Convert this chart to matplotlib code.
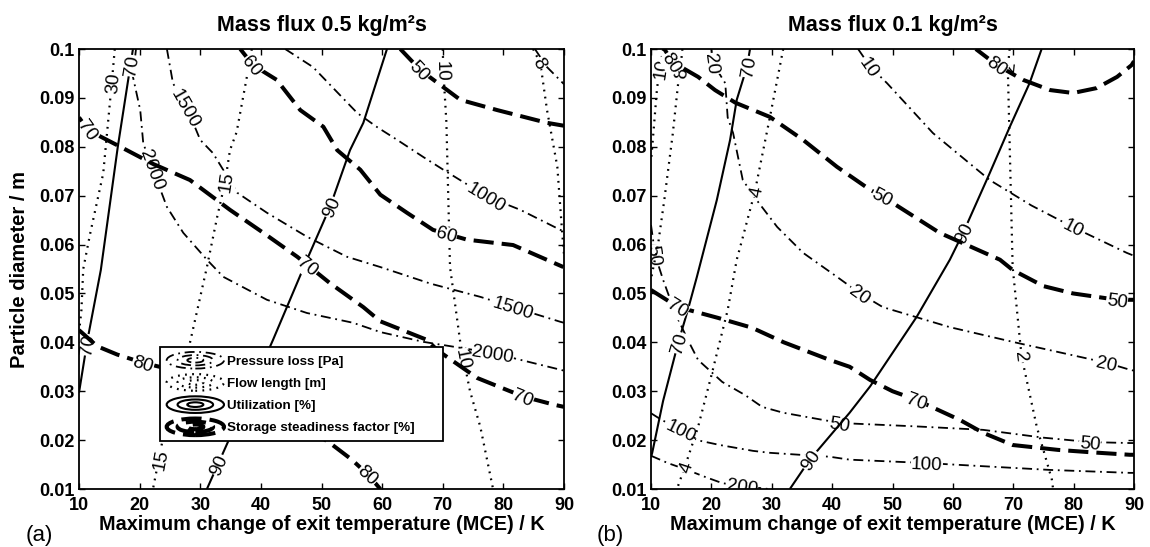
import numpy as np
import matplotlib
matplotlib.use('Agg')
import matplotlib.pyplot as plt
from matplotlib.legend_handler import HandlerBase
from matplotlib.lines import Line2D
from matplotlib.patches import Ellipse

plt.rcParams['font.family'] = ['Liberation Sans', 'DejaVu Sans']

# ---------------- panel (a): mass flux 0.5 kg/m2s ----------------
# pressure loss [Pa]
a_p500_x = [85.2, 87.2, 90.0]
a_p500_y = [0.100, 0.0963, 0.0928]
a_p1000_x = [44.0, 48.6, 55.9, 59.2, 62.5, 66.8, 70.1, 77.3, 82.8, 89.4, 90.0]
a_p1000_y = [0.100, 0.0963, 0.0869, 0.0840, 0.0814, 0.0779, 0.0753, 0.0698, 0.0671, 0.0630, 0.0627]
a_p1500_x = [24.5, 25.5, 27.8, 30.0, 32.1, 36.1, 41.0, 47.6, 54.2, 59.7, 68.0, 76.2, 81.6, 89.4, 90.0]
a_p1500_y = [0.100, 0.093, 0.088, 0.0814, 0.0787, 0.0706, 0.0665, 0.0616, 0.0575, 0.0554, 0.0520, 0.0493, 0.0472, 0.0442, 0.0440]
a_p2000_x = [19.4, 18.9, 20.1, 20.6, 22.2, 24.5, 27.2, 31.1, 33.8, 41.0, 47.6, 55.2, 59.7, 66.8, 78.3, 89.4, 90.0]
a_p2000_y = [0.100, 0.0943, 0.0875, 0.0807, 0.0753, 0.0677, 0.0624, 0.0569, 0.0534, 0.0487, 0.0460, 0.0440, 0.0421, 0.0401, 0.0378, 0.0344, 0.0342]
# flow length [m]
a_f30_x = [15.9, 15.4, 14.0, 11.8, 10.7, 10.4, 10.0]
a_f30_y = [0.100, 0.093, 0.0746, 0.062, 0.055, 0.0466, 0.042]
a_f15_x = [38.5, 37.9, 36.0, 34.9, 34.1, 32.8, 31.1, 28.3, 26.2, 23.9, 22.2]
a_f15_y = [0.100, 0.0957, 0.083, 0.0793, 0.0728, 0.0657, 0.0554, 0.0399, 0.0297, 0.0207, 0.010]
a_f10_x = [70.0, 70.1, 70.6, 71.2, 72.9, 74.5, 76.2, 78.3]
a_f10_y = [0.100, 0.0955, 0.0850, 0.0554, 0.0399, 0.0300, 0.0227, 0.010]
a_f8_x = [84.9, 86.1, 87.2, 88.9, 89.7, 90.0]
a_f8_y = [0.100, 0.0971, 0.0875, 0.0759, 0.0624, 0.0580]
# utilization [%]
a_u70_x = [18.9, 16.4, 13.6, 11.4, 10.0]
a_u70_y = [0.100, 0.080, 0.0548, 0.0405, 0.0297]
a_u90_x = [31.1, 36.5, 42.0, 47.6, 51.4, 54.7, 56.9, 60.8]
a_u90_y = [0.010, 0.025, 0.0405, 0.0569, 0.0677, 0.0793, 0.0849, 0.100]
# storage steadiness factor [%]
a_s50_x = [63.0, 66.3, 72.9, 79.0, 87.2, 90.0]
a_s50_y = [0.100, 0.0957, 0.0896, 0.0875, 0.0849, 0.0843]
a_s60_x = [36.6, 38.7, 42.6, 46.5, 50.3, 52.6, 56.4, 59.7, 64.1, 68.4, 74.0, 81.6, 89.9]
a_s60_y = [0.100, 0.0967, 0.0937, 0.0875, 0.0841, 0.0793, 0.0753, 0.0702, 0.0665, 0.0630, 0.0610, 0.0599, 0.0554]
a_s70_x = [10.0, 11.5, 17.9, 22.2, 28.3, 34.9, 40.4, 46.0, 51.4, 56.9, 59.7, 67.4, 69.1, 75.7, 83.3, 88.5, 90.0]
a_s70_y = [0.0860, 0.0834, 0.0793, 0.0765, 0.0732, 0.0671, 0.0624, 0.0575, 0.0521, 0.0472, 0.0443, 0.0405, 0.0384, 0.0327, 0.0289, 0.0272, 0.0268]
a_s80_x = [10.0, 13.0, 16.3, 20.6, 30.0, 40.0, 47.5, 51.4, 55.0, 57.7, 59.7]
a_s80_y = [0.0425, 0.0392, 0.0375, 0.0358, 0.0330, 0.0280, 0.0225, 0.0194, 0.0160, 0.0129, 0.0100]

# ---------------- panel (b): mass flux 0.1 kg/m2s ----------------
b_p10_x = [44.3, 46.3, 49.1, 56.7, 66.1, 73.0, 80.0, 88.8, 90.0]
b_p10_y = [0.100, 0.0964, 0.0930, 0.0828, 0.0732, 0.0680, 0.0635, 0.0583, 0.0577]
b_p20_x = [20.0, 20.3, 22.3, 22.7, 23.6, 25.2, 27.5, 30.9, 35.2, 40.8, 44.6, 48.4, 59.5, 70.6, 85.5, 89.3, 90.0]
b_p20_y = [0.100, 0.097, 0.093, 0.086, 0.0828, 0.0732, 0.0691, 0.0636, 0.0583, 0.0534, 0.0500, 0.0472, 0.0431, 0.0399, 0.0358, 0.0344, 0.0342]
b_p50_x = [10.0, 10.7, 12.0, 14.0, 16.1, 17.8, 21.8, 25.6, 28.4, 31.9, 41.3, 54.0, 65.0, 75.0, 82.7, 89.3, 90.0]
b_p50_y = [0.0640, 0.0578, 0.0528, 0.0460, 0.0405, 0.0364, 0.0319, 0.0292, 0.0268, 0.0256, 0.0235, 0.0228, 0.0221, 0.0205, 0.0196, 0.0194, 0.0194]
b_p100_x = [10.0, 11.8, 15.1, 17.6, 21.4, 26.9, 29.7, 39.6, 42.9, 55.7, 76.1, 89.3, 90.0]
b_p100_y = [0.0255, 0.0241, 0.0221, 0.0200, 0.0190, 0.0178, 0.0174, 0.0166, 0.0160, 0.0153, 0.0139, 0.0133, 0.0133]
b_p200_x = [10.0, 12.8, 16.0, 18.9, 21.8, 25.1, 29.5]
b_p200_y = [0.0168, 0.0153, 0.0139, 0.0125, 0.0112, 0.0106, 0.0100]
b_f10_x = [12.0, 11.5, 11.0, 10.3, 10.0]
b_f10_y = [0.100, 0.0960, 0.0920, 0.0814, 0.0770]
b_f8_x = [15.2, 14.8, 14.5, 13.6, 12.2, 11.2, 10.5, 10.0]
b_f8_y = [0.100, 0.0950, 0.0930, 0.0826, 0.0691, 0.0603, 0.0560, 0.0530]
b_f4_x = [31.9, 29.7, 27.2, 25.1, 24.2, 22.7, 20.1, 17.8, 15.6, 14.3]
b_f4_y = [0.100, 0.0861, 0.0708, 0.0610, 0.0569, 0.0466, 0.0337, 0.0227, 0.0145, 0.0100]
b_f2_x = [69.4, 69.1, 69.9, 70.5, 71.1, 71.4, 73.9, 76.4, 76.6]
b_f2_y = [0.100, 0.0960, 0.0554, 0.0480, 0.0405, 0.0370, 0.0227, 0.0119, 0.0100]
b_u70_x = [26.4, 25.9, 24.2, 23.1, 20.9, 17.6, 16.1, 14.5, 12.0, 10.2, 10.0]
b_u70_y = [0.100, 0.0964, 0.0896, 0.0814, 0.0691, 0.0534, 0.0466, 0.0399, 0.0280, 0.0174, 0.0165]
b_u90_x = [33.0, 36.3, 42.9, 46.3, 54.0, 59.5, 61.7, 66.1, 69.4, 72.7, 74.7]
b_u90_y = [0.010, 0.016, 0.0256, 0.031, 0.0452, 0.0569, 0.0624, 0.0746, 0.0840, 0.0930, 0.100]
b_s80_x = [63.8, 67.3, 71.6, 76.1, 79.9, 83.8, 87.2, 89.6, 90.0]
b_s80_y = [0.100, 0.0967, 0.0937, 0.0916, 0.0910, 0.0920, 0.0943, 0.0967, 0.0975]
b_s50_x = [12.2, 13.6, 17.8, 20.6, 24.0, 29.7, 35.2, 40.8, 46.3, 48.4, 57.8, 67.8, 69.9, 75.0, 79.9, 87.2, 90.0]
b_s50_y = [0.100, 0.0973, 0.0943, 0.0916, 0.0890, 0.0861, 0.0814, 0.0759, 0.0712, 0.0698, 0.0624, 0.0569, 0.0548, 0.0515, 0.0500, 0.0487, 0.0487]
b_s70_x = [10.0, 14.5, 21.1, 26.7, 32.0, 39.6, 42.9, 46.3, 50.0, 54.0, 61.2, 65.0, 69.9, 77.4, 83.0, 89.3, 90.0]
b_s70_y = [0.0507, 0.0472, 0.0450, 0.0430, 0.0400, 0.0364, 0.0350, 0.0323, 0.0300, 0.0282, 0.0241, 0.0215, 0.0190, 0.0180, 0.0175, 0.0170, 0.0170]

x_ticks = [10, 20, 30, 40, 50, 60, 70, 80, 90]
y_ticks = [0.01, 0.02, 0.03, 0.04, 0.05, 0.06, 0.07, 0.08, 0.09, 0.1]
y_ticklabels = ['0.01', '0.02', '0.03', '0.04', '0.05', '0.06', '0.07', '0.08', '0.09', '0.1']
titles = ['Mass flux 0.5 kg/m²s', 'Mass flux 0.1 kg/m²s']
legend_names = ['Pressure loss [Pa]', 'Flow length [m]', 'Utilization [%]',
                'Storage steadiness factor [%]']

STYLE = {
    'p': dict(lw=1.3, ls=(0, (5.5, 2.6, 1.0, 2.6)), z=2),
    'f': dict(lw=1.6, ls=(0, (0.8, 2.4)), z=3),
    'u': dict(lw=1.5, ls='-', z=4),
    's': dict(lw=2.9, ls=(0, (5, 2)), z=5),
}

curves_a = {
    'p500': (a_p500_x, a_p500_y), 'p1000': (a_p1000_x, a_p1000_y),
    'p1500': (a_p1500_x, a_p1500_y), 'p2000': (a_p2000_x, a_p2000_y),
    'f30': (a_f30_x, a_f30_y), 'f15': (a_f15_x, a_f15_y),
    'f10': (a_f10_x, a_f10_y), 'f8': (a_f8_x, a_f8_y),
    'u70': (a_u70_x, a_u70_y), 'u90': (a_u90_x, a_u90_y),
    's50': (a_s50_x, a_s50_y), 's60': (a_s60_x, a_s60_y),
    's70': (a_s70_x, a_s70_y), 's80': (a_s80_x, a_s80_y),
}
labels_a = [
    ('u70', '70', 19.0, 0.0965), ('u70', '70', 11.3, 0.0395),
    ('u90', '90', 51.4, 0.0677), ('u90', '90', 32.0, 0.0155),
    ('f30', '30', 15.4, 0.093), ('f15', '15', 34.1, 0.0728), ('f15', '15', 23.4, 0.016),
    ('f10', '10', 70.1, 0.0955), ('f10', '10', 73.0, 0.0364), ('f8', '8', 86.1, 0.0971),
    ('s50', '50', 66.3, 0.0957), ('s60', '60', 38.7, 0.0967), ('s60', '60', 70.7, 0.0626),
    ('s70', '70', 11.5, 0.0834), ('s70', '70', 47.6, 0.0552), ('s70', '70', 83.3, 0.0289),
    ('s80', '80', 20.6, 0.0358), ('s80', '80', 57.7, 0.0129),
    ('p1000', '1000', 77.3, 0.0698), ('p1500', '1500', 27.8, 0.088),
    ('p1500', '1500', 81.6, 0.0472), ('p2000', '2000', 22.2, 0.0753),
    ('p2000', '2000', 78.3, 0.0378),
]
curves_b = {
    'p10': (b_p10_x, b_p10_y), 'p20': (b_p20_x, b_p20_y), 'p50': (b_p50_x, b_p50_y),
    'p100': (b_p100_x, b_p100_y), 'p200': (b_p200_x, b_p200_y),
    'f10': (b_f10_x, b_f10_y), 'f8': (b_f8_x, b_f8_y),
    'f4': (b_f4_x, b_f4_y), 'f2': (b_f2_x, b_f2_y),
    'u70': (b_u70_x, b_u70_y), 'u90': (b_u90_x, b_u90_y),
    's80': (b_s80_x, b_s80_y), 's50': (b_s50_x, b_s50_y), 's70': (b_s70_x, b_s70_y),
}
labels_b = [
    ('p10', '10', 46.3, 0.0964), ('p10', '10', 80.0, 0.0635),
    ('p20', '20', 20.3, 0.0970), ('p20', '20', 44.6, 0.0500), ('p20', '20', 85.5, 0.0358),
    ('p50', '50', 10.7, 0.0578), ('p50', '50', 41.3, 0.0235), ('p50', '50', 82.7, 0.0196),
    ('p100', '100', 15.1, 0.0221), ('p100', '100', 55.7, 0.0153),
    ('p200', '200', 25.1, 0.0106),
    ('f10', '10', 11.5, 0.096), ('f8', '8', 14.8, 0.095), ('f4', '4', 27.2, 0.0708),
    ('f4', '4', 15.6, 0.0145), ('f2', '2', 69.4, 0.0965), ('f2', '2', 71.4, 0.037),
    ('u70', '70', 25.9, 0.0964), ('u70', '70', 14.5, 0.0399),
    ('u90', '90', 36.3, 0.016), ('u90', '90', 61.7, 0.0624),
    ('s80', '80', 67.3, 0.0967), ('s50', '80', 13.6, 0.0973), ('s50', '50', 48.4, 0.0698),
    ('s50', '50', 87.2, 0.0487), ('s70', '70', 14.5, 0.0472), ('s70', '70', 54.0, 0.0282),
]


class ContourIcon(HandlerBase):
    def __init__(self, lw, ls):
        super().__init__()
        self.lw, self.ls = lw, ls

    def create_artists(self, legend, orig_handle, xdescent, ydescent,
                       width, height, fontsize, trans):
        cx = -xdescent + width / 2
        cy = -ydescent + height / 2
        arts = []
        for k in (1.0, 0.62, 0.28):
            arts.append(Ellipse((cx, cy), width * k, height * 1.3 * k, fill=False,
                                ec='black', lw=self.lw, ls=self.ls, transform=trans))
        return arts


def put_label(ax, xs, ys, x0, y0, text, z):
    pts = ax.transData.transform(np.column_stack([xs, ys]))
    p0 = ax.transData.transform((x0, y0))
    best = None
    for i in range(len(pts) - 1):
        a, b = pts[i], pts[i + 1]
        ab = b - a
        t = np.clip(np.dot(p0 - a, ab) / np.dot(ab, ab), 0, 1)
        q = a + t * ab
        d = np.hypot(*(q - p0))
        if best is None or d < best[0]:
            best = (d, q, ab)
    _, q, ab = best
    ang = np.degrees(np.arctan2(ab[1], ab[0]))
    if ang > 90:
        ang -= 180
    if ang < -90:
        ang += 180
    xd, yd = ax.transData.inverted().transform(q)
    ax.text(xd, yd, text, rotation=ang, rotation_mode='anchor', ha='center',
            va='center_baseline', fontsize=13.5, zorder=z + 0.5, clip_on=True,
            bbox=dict(boxstyle='square,pad=0.02', fc='white', ec='none'))


fig = plt.figure(figsize=(11.5, 5.47), dpi=100)
W, H = 1150, 547
ax_a = fig.add_axes([79 / W, 1 - 489 / H, 485 / W, 440 / H])
ax_b = fig.add_axes([651 / W, 1 - 489 / H, 483 / W, 440 / H])

for ax, curves, labels, title in [(ax_a, curves_a, labels_a, titles[0]),
                                  (ax_b, curves_b, labels_b, titles[1])]:
    ax.set_xlim(10, 90)
    ax.set_ylim(0.01, 0.1)
    for key, (xs, ys) in curves.items():
        st = STYLE[key[0]]
        ax.plot(xs, ys, color='black', lw=st['lw'], ls=st['ls'], zorder=st['z'],
                solid_capstyle='butt', dash_capstyle='butt')
    for key, txt, lx, ly in labels:
        xs, ys = curves[key]
        put_label(ax, xs, ys, lx, ly, txt, STYLE[key[0]]['z'])
    ax.set_xticks(x_ticks)
    ax.set_yticks(y_ticks)
    ax.set_yticklabels(y_ticklabels)
    ax.tick_params(direction='in', top=True, right=True, length=4, width=1,
                   labelsize=13)
    ax.tick_params(axis='x', pad=6)
    for lab in ax.get_xticklabels() + ax.get_yticklabels():
        lab.set_fontweight('bold')
    for sp in ax.spines.values():
        sp.set_linewidth(1.3)
        sp.set_zorder(10)
    ax.set_title(title, fontsize=15.5, fontweight='bold', pad=13)
    ax.set_xlabel('Maximum change of exit temperature (MCE) / K', fontsize=14.3,
                  fontweight='bold', va='top')
    ax.xaxis.set_label_coords(0.5, -0.058)

ax_a.set_ylabel('Particle diameter / m', fontsize=14.5, fontweight='bold')
ax_a.yaxis.set_label_coords(-0.103, 0.5)

handles = []
hmap = {}
for kind, name in zip(['p', 'f', 'u', 's'], legend_names):
    st = STYLE[kind]
    h = Line2D([], [], color='black', lw=st['lw'], ls=st['ls'])
    handles.append(h)
    hmap[h] = ContourIcon(st['lw'], st['ls'])
leg = ax_a.legend(handles, legend_names, handler_map=hmap, loc='lower left',
                  bbox_to_anchor=(0.167, 0.109, 0.584, 0.223), mode='expand',
                  borderaxespad=0, fancybox=False,
                  framealpha=1, edgecolor='black', prop=dict(size=9.6, weight='bold'),
                  handlelength=4.3, handleheight=1.1, handletextpad=0.25,
                  labelspacing=0.62, borderpad=0.5)
leg.get_frame().set_linewidth(1.3)
leg.set_zorder(20)

fig.text(39 / W, 1 - 535 / H, '(a)', fontsize=16, ha='center', va='center')
fig.text(610 / W, 1 - 535 / H, '(b)', fontsize=16, ha='center', va='center')

fig.savefig('out.png', dpi=100)
